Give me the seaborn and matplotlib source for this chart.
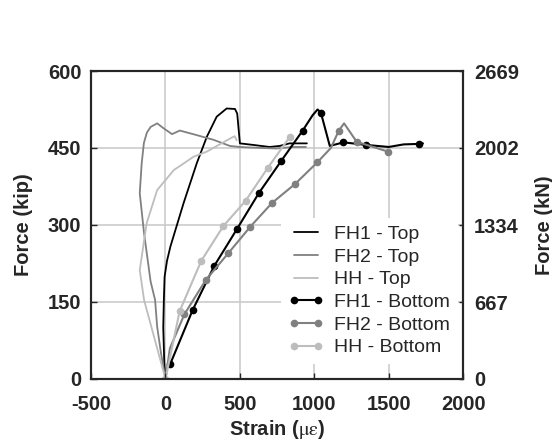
import matplotlib
matplotlib.use("Agg")
import matplotlib.pyplot as plt
import seaborn as sns
import pandas as pd
import numpy as np

# ---------------- data ----------------
fh1_top_strain = [0, -8, -15, -11, -6, 10, 33, 122, 211, 278, 344, 411, 467, 482, 500, 589, 700, 767, 833, 950]
fh1_top_force = [0, 30, 100, 154, 199, 230, 258, 343, 421, 472, 511, 527, 526, 517, 459, 456, 452, 454, 459, 459]

fh2_top_strain = [0, -30, -56, -70, -100, -144, -173, -160, -145, -125, -100, -56, -11, 44, 96, 211, 322, 433, 500, 567, 744, 856, 944]
fh2_top_force = [0, 50, 102, 154, 190, 284, 362, 420, 460, 480, 491, 498, 488, 477, 484, 475, 466, 454, 452, 451, 449, 452, 452]

hh_top_strain = [0, -144, -173, -127, -56, 56, 189, 278, 370, 444, 465, 478]
hh_top_force = [0, 154, 212, 303, 368, 407, 433, 443, 458, 470, 473, 465]

fh1_bot_strain = [33, 182, 327, 480, 627, 778, 922, 989, 1022, 1044, 1104, 1196, 1349, 1500, 1600, 1704, 1730]
fh1_bot_force = [30, 134, 220, 292, 362, 425, 484, 514, 525, 519, 454, 461, 456, 452, 457, 458, 459]
fh1_bot_marks = [0, 1, 2, 3, 4, 5, 6, 9, 11, 12, 15]

fh2_bot_strain = [0, 30, 127, 271, 422, 571, 716, 871, 1020, 1111, 1165, 1200, 1285, 1495]
fh2_bot_force = [0, 60, 126, 193, 245, 297, 343, 380, 422, 450, 484, 498, 462, 443]
fh2_bot_marks = [2, 3, 4, 5, 6, 7, 8, 10, 12, 13]

hh_bot_strain = [0, 95, 240, 389, 538, 689, 836]
hh_bot_force = [0, 132, 230, 298, 347, 412, 472]

x_ticks = [-500, 0, 500, 1000, 1500, 2000]
y_ticks = [0, 150, 300, 450, 600]
kn_ticks = [0, 667, 1334, 2002, 2669]

# ---------------- style ----------------
sns.set_style("white")
plt.rcParams["font.family"] = ["Liberation Sans", "DejaVu Sans"]
plt.rcParams["mathtext.fontset"] = "stix"

BLACK = "#000000"
GRAY = "#808080"
LIGHT = "#bdbdbd"
GRID = "#c8c8c8"
FS = 14.5

fig = plt.figure(figsize=(5.52, 4.41), dpi=100)
ax = fig.add_axes([0.165, 0.1406, 0.674, 0.6984])

series = [
    ("FH1 - Top", fh1_top_strain, fh1_top_force, BLACK, None, None),
    ("FH2 - Top", fh2_top_strain, fh2_top_force, GRAY, None, None),
    ("HH - Top", hh_top_strain, hh_top_force, LIGHT, None, None),
    ("FH1 - Bottom", fh1_bot_strain, fh1_bot_force, BLACK, "o", fh1_bot_marks),
    ("FH2 - Bottom", fh2_bot_strain, fh2_bot_force, GRAY, "o", fh2_bot_marks),
    ("HH - Bottom", hh_bot_strain, hh_bot_force, LIGHT, "o", None),
]

handles = []
for name, xs, ys, col, mk, me in series:
    df = pd.DataFrame({"strain": xs, "force": ys})
    kw = dict(color=col, sort=False, estimator=None, ax=ax, legend=False)
    if mk is None:
        sns.lineplot(data=df, x="strain", y="force", linewidth=1.3, **kw)
    else:
        sns.lineplot(data=df, x="strain", y="force", linewidth=1.5,
                     marker=mk, markersize=5.5, markeredgewidth=0,
                     markevery=me, **kw)
    ln = ax.get_lines()[-1]
    ln.set_label(name)
    handles.append(ln)

ax.set_xlim(-500, 2000)
ax.set_ylim(0, 600)
ax.set_xticks(x_ticks)
ax.set_yticks(y_ticks)
ax.set_xticklabels([str(v) for v in x_ticks], fontweight="bold")
ax.set_yticklabels([str(v) for v in y_ticks], fontweight="bold")
ax.grid(True, color=GRID, linewidth=1.1)
ax.set_axisbelow(True)
ax.tick_params(axis="x", direction="in", length=4.5, width=1, labelsize=FS, pad=11.5)
ax.tick_params(axis="y", direction="in", length=4.5, width=1, labelsize=FS, pad=7)
for sp in ax.spines.values():
    sp.set_linewidth(1.5)
    sp.set_color("black")

ax.set_xlabel(r"Strain ($\mathrm{\mu\varepsilon}$)", fontsize=FS, fontweight="bold", labelpad=3)
ax.set_ylabel("Force (kip)", fontsize=FS, fontweight="bold", labelpad=11)

leg = ax.legend(handles=handles, loc="upper left", bbox_to_anchor=(0.51, 0.524),
                borderaxespad=0, frameon=True, fancybox=False, framealpha=1,
                facecolor="white", edgecolor="none", fontsize=14,
                handlelength=1.8, handletextpad=0.55, labelspacing=0.26,
                numpoints=2, borderpad=0.4)

ax2 = ax.twinx()
ax2.set_ylim(0, 2669)
ax2.set_yticks(kn_ticks)
ax2.set_yticklabels([str(v) for v in kn_ticks], fontweight="bold")
ax2.tick_params(axis="y", direction="in", length=3, width=1, labelsize=FS, pad=8)
ax2.set_ylabel("Force (kN)", fontsize=FS, fontweight="bold", labelpad=11)
# show the bottom tick marks above the legend box, as in the reference
ax2.xaxis.set_visible(True)
ax2.tick_params(axis="x", bottom=True, top=False, labelbottom=False, labeltop=False,
                direction="in", length=4.5, width=1)
for sp in ax2.spines.values():
    sp.set_linewidth(1.5)
ax2.grid(False)

fig.savefig("out.png", dpi=100)
